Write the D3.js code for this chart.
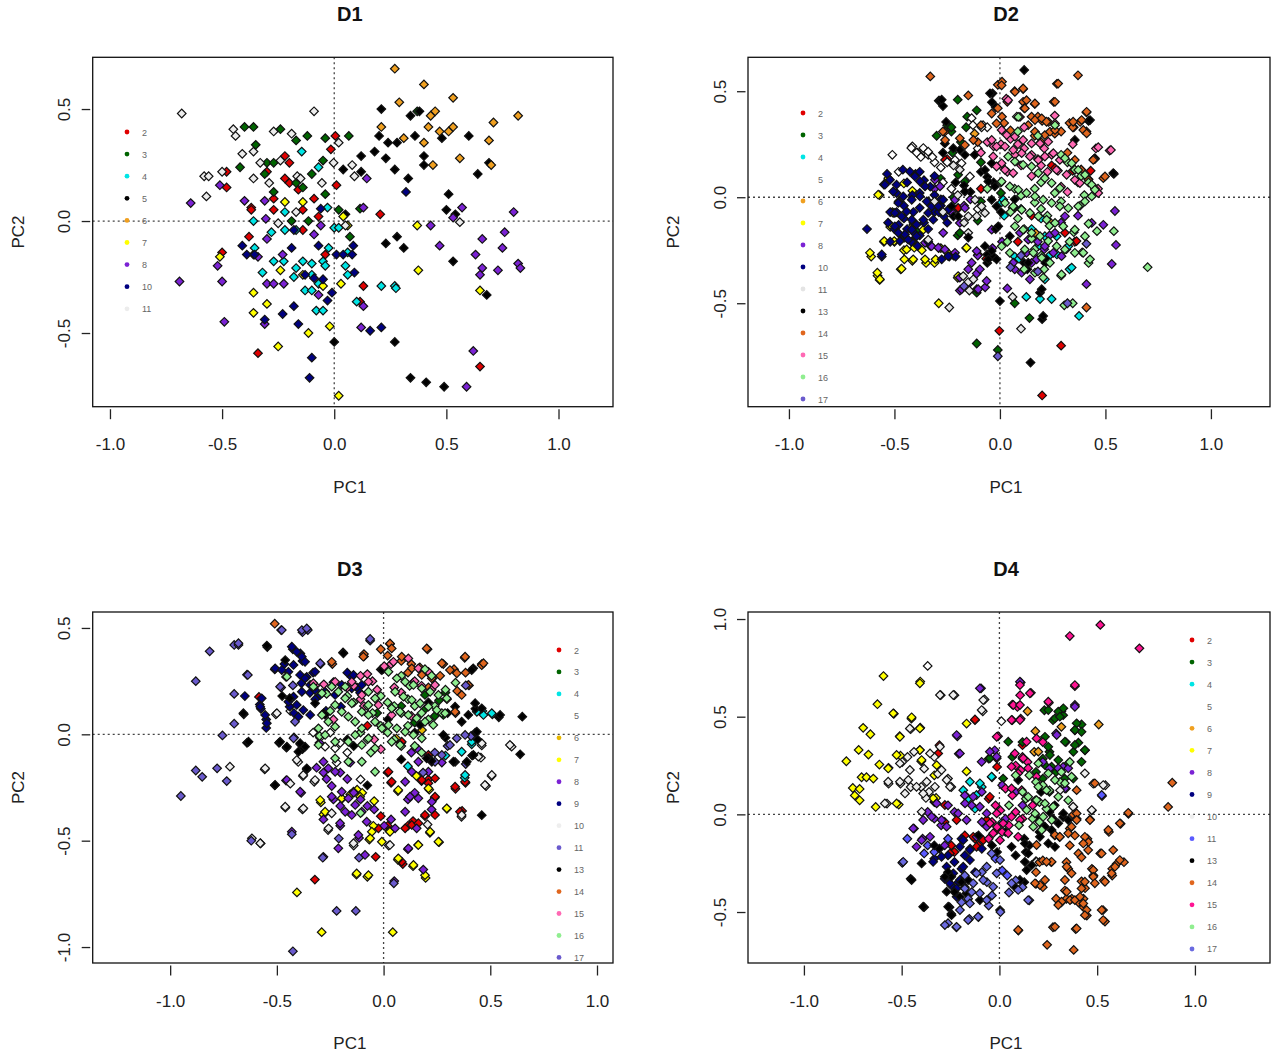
<!DOCTYPE html>
<html lang="en">
<head>
<meta charset="UTF-8">
<title>PCA D1-D4</title>
<script src="https://cdn.jsdelivr.net/npm/d3@7/dist/d3.min.js"></script>
<style>
    body { margin: 0; background: #fff; }
    text { font-family: "Liberation Sans", Arial, sans-serif; }
</style>
</head>
<body>
<svg width="1280" height="1058" id="main"></svg>
<script>
    // shared tick values
    const xTicks = [-1, -0.5, 0, 0.5, 1];
    const d1YTicks = [-0.5, 0, 0.5];
    const d2YTicks = [-0.5, 0, 0.5];
    const d3YTicks = [-1, -0.5, 0, 0.5];
    const d4YTicks = [-0.5, 0, 0.5, 1];

    // ---- D1 ----
    const d1Labels = ["2", "3", "4", "5", "6", "7", "8", "10", "11"];
    const d1Colors = ["#e00000", "#006400", "#00e5e5", "#000000", "#f0a020", "#ffff00", "#7b22d4", "#000080", "#ececec"];
    const d1Points = [
        // 2
        [[0.005,0.38],[-0.015,0.32],[-0.22,0.29],[-0.2,0.26],[-0.3,0.22],[-0.48,0.22],[-0.48,0.15],[-0.22,0.19],[-0.2,0.17],[-0.16,0.14],[0.01,0.16],[-0.27,0.1],[-0.37,0.06],[-0.37,0.05],[-0.27,0.05],[-0.09,0.1],[-0.14,0.05],[-0.07,0.02],[-0.14,-0.04],[0.205,0.03],[-0.38,-0.07],[-0.36,-0.15],[-0.5,-0.14],[-0.04,-0.15],[0.13,-0.29],[0.115,-0.36],[-0.34,-0.59],[0.65,-0.65]],
        // 3
        [[-0.4,0.42],[-0.36,0.42],[-0.24,0.41],[-0.12,0.38],[-0.04,0.37],[0.065,0.38],[-0.35,0.34],[-0.42,0.24],[-0.3,0.26],[-0.27,0.26],[-0.17,0.36],[-0.05,0.27],[-0.1,0.21],[-0.17,0.17],[-0.14,0.15],[-0.27,0.13],[-0.04,0.12],[0.02,0.05],[0.115,0.055],[-0.19,0],[-0.115,0],[0.07,-0.07],[0.37,0.49],[-0.31,0.21]],
        // 4
        [[-0.145,0.31],[-0.07,0.24],[-0.22,0.04],[-0.03,0.06],[-0.36,0],[-0.22,-0.04],[-0.28,-0.05],[-0.17,-0.04],[0,-0.03],[-0.355,-0.12],[-0.025,-0.12],[0.06,-0.14],[-0.27,-0.18],[-0.225,-0.18],[-0.17,-0.21],[-0.14,-0.18],[-0.1,-0.19],[-0.05,-0.18],[-0.04,-0.2],[-0.32,-0.23],[-0.18,-0.25],[-0.1,-0.24],[0.05,-0.2],[0.06,-0.24],[-0.07,-0.28],[-0.13,-0.31],[-0.1,-0.31],[-0.08,-0.4],[-0.05,-0.4],[0.1,-0.36],[0.21,-0.29],[0.27,-0.29],[0.275,-0.3],[0.02,-0.03]],
        // 5
        [[0.21,0.5],[0.34,0.47],[0.38,0.49],[0.2,0.38],[0.24,0.35],[0.28,0.35],[0.36,0.38],[0.48,0.37],[0.6,0.38],[0.18,0.31],[0.23,0.28],[0.12,0.29],[0.4,0.29],[0.4,0.25],[0.27,0.23],[0.12,0.22],[0.04,0.23],[0.64,0.21],[0.69,0.26],[0.33,0.19],[0.51,0.12],[0.5,0.05],[0.54,0.03],[0.23,-0.1],[0.28,-0.07],[0.31,-0.12],[0.53,-0.18],[0.68,-0.33],[0.27,-0.54],[0.34,-0.7],[0.41,-0.72],[0.49,-0.74],[0,-0.54],[0.05,0.03]],
        // 6
        [[0.27,0.68],[0.4,0.61],[0.53,0.55],[0.29,0.53],[0.82,0.47],[0.43,0.47],[0.45,0.49],[0.21,0.42],[0.42,0.42],[0.53,0.42],[0.51,0.4],[0.47,0.4],[0.71,0.44],[0.31,0.37],[0.4,0.35],[0.69,0.36],[0.56,0.28],[0.44,0.25],[0.7,0.25]],
        // 7
        [[-0.22,0.085],[-0.14,0.085],[0.04,0.02],[0.06,-0.02],[0.37,-0.02],[0.375,-0.22],[-0.51,-0.16],[-0.24,-0.22],[-0.14,-0.24],[-0.05,-0.29],[0.03,-0.28],[-0.36,-0.32],[-0.3,-0.37],[-0.36,-0.41],[-0.115,-0.5],[-0.02,-0.47],[-0.25,-0.56],[0.02,-0.78],[0.65,-0.31]],
        // 8
        [[0.145,0.19],[-0.51,0.16],[-0.64,0.08],[-0.4,0.09],[-0.31,0.09],[0.13,0.06],[0.57,0.06],[0.8,0.04],[0.53,0.015],[0.43,-0.02],[0.76,-0.05],[-0.305,0.01],[-0.06,-0.02],[-0.09,-0.06],[-0.3,-0.08],[-0.23,-0.15],[0.66,-0.08],[0.47,-0.11],[0.75,-0.12],[0.63,-0.15],[-0.52,-0.2],[-0.5,-0.27],[-0.34,-0.16],[-0.3,-0.28],[-0.27,-0.28],[-0.225,-0.28],[0.66,-0.21],[0.65,-0.24],[0.73,-0.22],[0.82,-0.19],[0.83,-0.21],[-0.69,-0.27],[-0.49,-0.45],[-0.31,-0.46],[0.13,-0.38],[0.12,-0.475],[0.62,-0.58],[0.59,-0.74],[-0.07,-0.33]],
        // 10
        [[0.32,0.13],[-0.06,0.055],[-0.18,-0.04],[-0.41,-0.11],[-0.39,-0.15],[-0.355,-0.15],[-0.19,-0.12],[-0.07,-0.11],[0.01,-0.15],[0.04,-0.15],[0.08,-0.15],[0.085,-0.11],[-0.13,-0.24],[-0.09,-0.255],[-0.05,-0.26],[0.09,-0.23],[-0.01,-0.32],[-0.03,-0.355],[-0.18,-0.38],[-0.23,-0.415],[-0.16,-0.46],[0.16,-0.49],[0.21,-0.475],[-0.1,-0.61],[-0.11,-0.7],[-0.31,-0.44]],
        // 11
        [[-0.68,0.48],[-0.09,0.49],[-0.45,0.41],[-0.44,0.38],[-0.27,0.4],[-0.19,0.39],[0.02,0.35],[-0.41,0.3],[-0.36,0.31],[-0.33,0.26],[-0.24,0.27],[-0.58,0.2],[-0.56,0.2],[-0.5,0.22],[-0.36,0.19],[-0.29,0.17],[-0.165,0.2],[-0.15,0.19],[-0.055,0.17],[-0.003,0.26],[0.09,0.2],[0.08,0.25],[-0.57,0.11],[-0.17,0.04],[-0.25,-0.01],[0.56,-0.005],[0.05,-0.02]]
    ];

    // ---- D2 ----
    const d2Labels = ["2", "3", "4", "5", "6", "7", "8", "10", "11", "13", "14", "15", "16", "17"];
    const d2Colors = ["#e00000", "#006400", "#00e5e5", "#ffffff", "#f0a020", "#ffff00", "#7b22d4", "#000080", "#e4e4e4", "#000000", "#e0661e", "#ff69b4", "#90ee90", "#6a5acd"];
    const d2Points = [
        // 2
        [[-0.065,-0.29],[-0.003,-0.63],[0.29,-0.7],[0.2,-0.935],[0.355,-0.21],[0.345,0.125],[0.385,0.13],[0.43,0.125],[0.35,0.33],[-0.2,-0.055],[-0.25,0.18],[0.15,-0.087],[-0.09,0.04],[0.245,0.15],[0.085,-0.21],[-0.26,0.176],[-0.103,-0.27],[-0.198,-0.05],[0.355,0.129],[0.261,0.137],[0.363,-0.207],[0.308,-0.168]],
        // 3
        [[-0.2,0.46],[-0.11,0.41],[-0.29,0.455],[-0.25,0.34],[-0.23,0.31],[-0.3,0.29],[-0.155,0.38],[-0.225,0.21],[-0.16,0.33],[-0.09,0.165],[-0.2,-0.18],[-0.105,-0.11],[-0.39,-0.17],[0.005,0.02],[0.07,-0.05],[-0.11,-0.45],[0.07,-0.5],[0.14,-0.57],[-0.11,-0.69],[-0.01,-0.72],[-0.22,0],[-0.09,-0.02],[-0.28,0.087],[-0.185,0.26],[-0.198,0.106],[-0.19,-0.168],[-0.166,0.074],[-0.11,-0.434],[-0.3,-0.051],[-0.395,-0.161],[-0.23,0.33]],
        // 4
        [[0.008,-0.024],[0.07,-0.28],[0.09,-0.29],[0.15,-0.15],[0.195,-0.1],[0.235,-0.275],[0.27,-0.27],[0.315,-0.245],[0.33,-0.34],[0.245,-0.48],[0.19,-0.48],[0.375,-0.56],[0.125,-0.47],[0.02,-0.087],[0.1,-0.055],[0.016,-0.012],[0.213,-0.184],[0.182,-0.231],[0.269,-0.184],[0.324,-0.231],[0.213,-0.387],[0.34,-0.332]],
        // 5
        [[-0.51,0.2],[-0.48,0.12],[-0.415,0.24],[-0.39,0.21],[-0.36,0.22],[-0.34,0.2],[-0.375,0.19],[-0.31,0.165],[-0.28,0.14],[-0.25,0.165],[-0.08,0.34],[-0.06,0.33],[0.08,0.38],[-0.105,-0.055],[-0.27,0.07],[-0.23,0.04],[-0.105,0.23],[-0.42,0.232],[-0.395,0.21],[-0.363,0.232],[-0.34,0.215],[-0.32,0.19],[-0.134,0.373],[-0.128,0.34],[-0.087,0.33],[-0.213,0.176],[-0.182,0.16],[-0.142,0.098]],
        // 6
        [[0.17,-0.17],[0.06,-0.05],[-0.12,0.3],[0.24,-0.12]],
        // 7
        [[-0.57,0.01],[-0.53,0.08],[-0.455,0.065],[-0.415,0.03],[-0.51,-0.07],[-0.52,-0.14],[-0.55,-0.21],[-0.5,-0.21],[-0.46,-0.19],[-0.455,-0.25],[-0.415,-0.21],[-0.415,-0.3],[-0.37,-0.25],[-0.35,-0.31],[-0.31,-0.31],[-0.28,-0.24],[-0.61,-0.28],[-0.58,-0.37],[-0.57,-0.39],[-0.47,-0.34],[-0.29,-0.5],[-0.2,-0.38],[-0.16,-0.24],[-0.41,-0.13],[-0.25,-0.26],[-0.529,0.09],[-0.577,0.012],[-0.506,-0.074],[-0.521,-0.129],[-0.548,-0.207],[-0.501,-0.207],[-0.453,-0.191],[-0.442,-0.246],[-0.406,-0.238],[-0.453,-0.293],[-0.411,-0.293],[-0.355,-0.293],[-0.305,-0.293],[-0.616,-0.262],[-0.581,-0.356],[-0.569,-0.387],[-0.466,-0.337],[-0.198,-0.372],[-0.158,-0.238],[-0.363,-0.153]],
        // 8
        [[-0.23,-0.07],[-0.33,-0.23],[-0.29,-0.24],[-0.15,-0.34],[-0.11,-0.36],[-0.19,-0.44],[-0.07,-0.425],[0.035,-0.43],[0.01,-0.21],[-0.035,-0.24],[0.545,-0.065],[0.49,-0.13],[0.55,-0.225],[0.53,-0.315],[0.41,-0.41],[0.18,-0.21],[0.21,-0.245],[0.235,-0.18],[0.15,-0.31],[0.29,-0.12],[0.37,-0.087],[-0.17,-0.04],[-0.14,-0.01],[-0.31,0.04],[0.07,-0.34],[-0.105,-0.275],[-0.22,-0.275],[-0.308,0.082],[-0.284,0.051],[-0.355,-0.215],[-0.324,-0.231],[-0.292,-0.238],[-0.261,-0.246],[-0.213,-0.262],[-0.269,-0.168],[-0.19,-0.121],[-0.134,-0.309],[-0.095,-0.34],[-0.19,-0.379],[-0.142,-0.403],[-0.182,-0.434],[-0.103,-0.434],[-0.063,-0.395],[-0.11,-0.254],[-0.039,-0.153],[-0.213,-0.012],[-0.166,-0.051],[0.095,-0.168],[0.134,-0.2],[0.126,-0.262],[0.174,-0.293],[0.213,-0.231],[0.253,-0.262],[0.292,-0.278],[0.261,-0.168],[0.308,-0.09],[0.063,-0.309],[0.103,-0.356],[0.142,-0.387],[0.435,-0.121]],
        // 10
        [[-0.55,0.06],[-0.535,0.11],[-0.48,-0.02],[-0.49,-0.07],[-0.44,0.07],[-0.4,0.11],[-0.38,0.12],[-0.36,0.08],[-0.33,0.05],[-0.34,-0.02],[-0.38,-0.05],[-0.41,-0.07],[-0.455,-0.1],[-0.48,-0.13],[-0.5,-0.15],[-0.44,-0.15],[-0.41,-0.165],[-0.38,-0.18],[-0.34,-0.15],[-0.31,-0.07],[-0.28,-0.04],[-0.25,-0.12],[-0.56,-0.28],[-0.63,-0.15],[-0.52,-0.21],[-0.39,-0.23],[-0.455,-0.04],[-0.415,0.01],[-0.38,0.02],[-0.31,0.01],[-0.265,-0.09],[-0.49,0.02],[-0.53,-0.12],[-0.24,-0.28],[-0.21,-0.28],[-0.42,-0.21],[-0.34,-0.21],[-0.28,-0.01],[-0.36,-0.12],[-0.41,-0.12],[-0.46,0.13],[-0.31,0.1],[-0.29,-0.07],[-0.52,-0.07],[-0.455,-0.18],[-0.427,0.121],[-0.403,0.098],[-0.379,0.074],[-0.355,0.051],[-0.379,0.004],[-0.347,-0.02],[-0.324,-0.043],[-0.418,-0.012],[-0.458,0.004],[-0.482,-0.027],[-0.498,-0.074],[-0.466,-0.09],[-0.442,-0.067],[-0.418,-0.106],[-0.395,-0.129],[-0.363,-0.106],[-0.34,-0.074],[-0.316,-0.106],[-0.292,-0.043],[-0.269,-0.012],[-0.245,-0.059],[-0.418,-0.153],[-0.45,-0.176],[-0.482,-0.168],[-0.498,-0.137],[-0.474,-0.207],[-0.435,-0.2],[-0.395,-0.184],[-0.545,0.059],[-0.521,0.082],[-0.49,0.059],[-0.506,0.027],[-0.56,-0.27],[-0.276,-0.293],[-0.245,-0.278]],
        // 11
        [[-0.22,0.15],[-0.19,0.13],[-0.15,-0.09],[-0.17,-0.12],[-0.34,-0.2],[-0.24,-0.52],[-0.15,-0.4],[-0.145,-0.44],[0.06,-0.47],[0.1,-0.62],[-0.2,0.01],[-0.31,-0.02],[-0.27,-0.07],[-0.118,-0.012],[-0.087,-0.043],[-0.11,-0.09],[-0.071,-0.074],[-0.15,-0.168],[-0.174,-0.372],[-0.126,-0.387]],
        // 13
        [[0.115,0.6],[-0.285,0.455],[-0.27,0.43],[-0.035,0.49],[-0.02,0.425],[-0.255,0.355],[0.42,0.36],[0.45,0.18],[0.54,0.11],[-0.12,0.2],[-0.09,0.12],[-0.06,0.095],[-0.03,0.07],[-0.17,0.055],[-0.14,0.025],[-0.22,-0.09],[-0.15,-0.19],[-0.06,-0.27],[-0.03,-0.28],[-0.06,-0.31],[-0.02,-0.15],[0.115,-0.31],[0.13,-0.34],[0.19,-0.45],[0.2,-0.575],[0,-0.49],[0.145,-0.78],[0.215,-0.31],[-0.27,0.21],[-0.21,0.07],[0.07,-0.01],[0.005,-0.07],[-0.261,0.254],[-0.221,0.231],[-0.19,0.223],[-0.166,0.2],[-0.071,0.129],[-0.039,0.16],[-0.055,0.074],[-0.024,0.051],[-0.039,-0.012],[-0.016,-0.043],[-0.071,-0.231],[-0.039,-0.254],[-0.055,-0.293],[-0.016,-0.293],[-0.166,0.027],[-0.229,-0.043],[-0.198,-0.09],[0.427,0.364],[0.45,0.184],[0.537,0.114],[0.355,0.27],[-0.008,-0.137],[0.047,-0.184],[0.134,-0.309],[0.221,-0.293],[0.198,-0.434],[0.205,-0.56],[-0.047,0.49],[-0.038,0.448],[-0.276,0.46]],
        // 14
        [[-0.33,0.57],[-0.15,0.48],[-0.01,0.53],[0.01,0.545],[0.07,0.5],[0.11,0.51],[0.27,0.535],[0.37,0.575],[0.255,0.45],[-0.01,0.42],[0.01,0.38],[0.035,0.45],[0.11,0.45],[0.115,0.42],[0.165,0.44],[0.15,0.38],[0.18,0.38],[0.2,0.36],[0.26,0.3],[0.29,0.31],[0.33,0.35],[0.345,0.33],[0.38,0.355],[0.41,0.31],[0.41,0.4],[0.445,0.18],[0.49,0.09],[0.42,0.085],[0.41,-0.52],[0.02,0.35],[0.05,0.315],[-0.09,0.34],[-0.105,0.26],[0.165,0.29],[0.195,0.26],[0.23,0.355],[0.32,0.21],[0.385,0.13],[-0.19,0.278],[-0.166,0.246],[-0.126,0.27],[-0.261,0.309],[-0.039,0.395],[-0.016,0.348],[-0.27,0.31],[-0.26,0.27],[0.008,0.528],[0.071,0.497],[0.11,0.513],[0.126,0.458],[0.118,0.419],[0.166,0.442],[0.261,0.45],[0.276,0.536],[0.134,0.34],[0.166,0.364],[0.198,0.372],[0.221,0.356],[0.166,0.309],[0.213,0.293],[0.237,0.309],[0.261,0.317],[0.347,0.356],[0.387,0.364],[0.411,0.403],[0.395,0.317],[0.411,0.301],[0.355,0.176],[0.442,0.176],[0.498,0.098],[0.419,0.082]],
        // 15
        [[0.03,0.465],[0.26,0.385],[-0.06,0.26],[-0.03,0.24],[0.005,0.25],[0.05,0.275],[0.085,0.25],[0.115,0.23],[0.15,0.2],[0.18,0.18],[0.21,0.23],[0.245,0.2],[0.195,0.15],[0.225,0.12],[0.275,0.125],[0.345,0.25],[0.37,0.07],[0.455,0.23],[0.52,0.22],[0.465,0.04],[0.07,0.2],[0.1,0.15],[0.005,0.15],[0.035,0.12],[0.29,0.05],[0.32,0.025],[0.15,0.1],[-0.09,0.21],[0.115,0.33],[-0.039,0.27],[-0.016,0.239],[-0.032,0.192],[0.008,0.16],[0.039,0.458],[0.095,0.379],[0.008,0.317],[0.032,0.293],[0.071,0.286],[0.11,0.27],[0.15,0.254],[0.19,0.254],[0.229,0.262],[0.024,0.239],[0.063,0.223],[0.103,0.208],[0.142,0.192],[0.182,0.176],[0.213,0.192],[0.253,0.208],[0.284,0.176],[0.268,0.129],[0.316,0.106],[0.355,0.082],[0.379,0.067],[0.466,0.02],[0.466,0.236],[0.526,0.223],[-0.016,0.145],[0.024,0.129],[0.063,0.114],[0.261,0.348]],
        // 16
        [[0.085,0.31],[0.18,0.29],[0.29,0.2],[0.32,0.165],[0.355,0.13],[0.385,0.1],[0.42,0.07],[0.45,0.04],[0.4,0.01],[0.38,-0.04],[0.35,-0.165],[0.33,-0.21],[0.39,-0.26],[0.42,-0.31],[0.42,-0.125],[0.46,-0.16],[0.54,-0.16],[0.7,-0.33],[0.165,-0.025],[0.195,-0.055],[0.225,-0.087],[0.05,-0.07],[0.085,-0.1],[0.115,-0.15],[0.15,-0.195],[0.165,-0.245],[0.195,-0.275],[0.21,-0.34],[0.29,-0.37],[0.345,-0.5],[0.305,-0.51],[0.07,0.04],[0.1,0.008],[0.26,0.02],[0.29,-0.02],[0.235,-0.135],[0.035,-0.21],[0.115,-0.34],[0.005,0.07],[-0.06,0.04],[0.195,0.07],[0.165,0.04],[0.087,0.379],[0.261,0.34],[0.308,0.184],[0.34,0.16],[0.371,0.129],[0.403,0.106],[0.435,0.059],[0.45,0.035],[0.435,0.004],[0.403,-0.02],[0.371,-0.043],[0.039,0.192],[0.071,0.168],[0.11,0.153],[0.15,0.145],[0.182,0.114],[0.213,0.09],[0.245,0.067],[0.284,0.043],[0.008,0.074],[0.047,0.051],[0.087,0.035],[0.126,0.02],[0.166,0.004],[0.205,-0.012],[0.245,-0.027],[0.284,-0.043],[0.324,-0.051],[0.024,-0.027],[0.063,-0.043],[0.103,-0.059],[0.142,-0.074],[0.182,-0.09],[0.221,-0.106],[0.261,-0.121],[0.3,-0.137],[0.355,-0.153],[0.403,-0.184],[0.071,-0.137],[0.11,-0.153],[0.15,-0.168],[0.19,-0.184],[0.229,-0.207],[0.269,-0.231],[0.308,-0.246],[0.355,-0.262],[0.395,-0.262],[0.427,-0.293],[0.118,-0.246],[0.158,-0.262],[0.198,-0.286],[0.237,-0.309],[0.166,-0.356],[0.205,-0.379],[0.292,-0.364],[0.008,-0.231],[0.047,-0.262]],
        // 17
        [[0.41,-0.22],[-0.01,-0.75],[0.18,-0.35],[-0.17,-0.42],[0.32,-0.5],[0.05,-0.33],[0.1,-0.275]]
    ];

    // ---- D3 ----
    const d3Labels = ["2", "3", "4", "5", "6", "7", "8", "9", "10", "11", "13", "14", "15", "16", "17"];
    const d3Colors = ["#e00000", "#006400", "#00e5e5", "#ffffff", "#e8b800", "#ffff00", "#7b22d4", "#000080", "#eeeeee", "#6a5acd", "#000000", "#e0661e", "#ff69b4", "#90ee90", "#6a5acd"];
    const d3Points = [
        // 2
        [[-0.584,0.176],[-0.322,-0.683],[-0.037,-0.576],[0.09,-0.61],[0.114,-0.43],[0.138,-0.408],[0.194,-0.385],[0.24,-0.298],[0.337,-0.256],[0.384,-0.228],[0.368,-0.36],[0.178,-0.22],[0.21,-0.212],[0.019,-0.18],[0.035,-0.228],[0.083,-0.04],[0.21,-0.1],[-0.076,0.04],[-0.013,-0.385],[0.019,-0.43],[-0.024,-0.442],[0.085,-0.035],[0.21,-0.097],[0.226,-0.129],[0.023,-0.176],[0.038,-0.223],[0.179,-0.215],[0.21,-0.23],[0.241,-0.207],[0.335,-0.246],[0.382,-0.223],[0.241,-0.293],[0.194,-0.379],[0.241,-0.379],[0.132,-0.426],[0.163,-0.418],[0.101,-0.442],[0.358,-0.364],[0.085,-0.599]],
        // 3
        [[0.21,0.29],[0.29,0.196],[0.194,0.118],[0.146,0.055],[0.083,0.133],[0.24,0.086],[-0.03,0.1],[0.26,0.16],[0.28,0.091],[0.194,0.185]],
        // 4
        [[0.463,0.11],[0.51,0.094],[0.413,-0.047],[0.38,-0.204],[0.29,-0.1],[0.114,-0.15],[0.138,0.243],[0.437,0.106],[0.468,0.091],[0.507,0.099],[0.413,-0.035],[0.366,-0.082],[0.382,-0.191]],
        // 5
        [[-0.505,0.094],[-0.437,0.11],[-0.33,0.008],[-0.298,-0.016],[-0.203,-0.04],[-0.17,-0.086],[-0.25,0.008],[-0.108,-0.212],[-0.22,-0.133],[-0.274,-0.058],[-0.227,-0.066]],
        // 6
        [[0.06,-0.02],[0.18,0.02]],
        // 7
        [[-0.406,-0.743],[-0.29,-0.93],[0.043,-0.93],[-0.127,-0.66],[-0.076,-0.67],[-0.294,-0.32],[-0.282,-0.377],[-0.195,-0.303],[-0.156,-0.283],[-0.124,-0.26],[-0.1,-0.275],[-0.048,-0.43],[-0.067,-0.495],[0.027,-0.455],[0.067,-0.267],[0.067,-0.59],[0.138,-0.62],[0.162,-0.52],[0.197,-0.675],[0.217,-0.463],[0.26,-0.507],[0.297,-0.35],[0.214,-0.26],[0.154,-0.196],[-0.044,-0.314],[-0.297,-0.309],[-0.274,-0.364],[-0.196,-0.301],[-0.141,-0.27],[-0.11,-0.293],[-0.055,-0.458],[-0.063,-0.489],[-0.008,-0.505],[-0.126,-0.654],[-0.071,-0.662],[0.069,-0.262],[0.21,-0.254],[0.296,-0.348],[0.03,-0.458],[0.218,-0.458],[0.257,-0.505],[0.163,-0.52],[0.069,-0.583],[0.14,-0.614],[0.194,-0.662]],
        // 8
        [[-0.457,-0.217],[-0.386,-0.275],[-0.314,-0.157],[-0.282,-0.18],[-0.267,-0.21],[-0.243,-0.243],[-0.203,-0.18],[-0.17,-0.21],[-0.14,-0.275],[-0.108,-0.306],[-0.076,-0.337],[-0.044,-0.353],[-0.235,-0.306],[-0.203,-0.337],[-0.282,-0.4],[-0.203,-0.43],[-0.115,-0.487],[-0.282,-0.576],[0.003,-0.43],[0.035,-0.4],[0.114,-0.306],[0.146,-0.275],[0.114,-0.54],[0.186,-0.636],[0.05,-0.69],[0.225,-0.353],[0.273,-0.133],[0.13,-0.086],[0.162,-0.07],[-0.156,-0.133],[-0.3,-0.04],[-0.453,-0.215],[-0.391,-0.27],[-0.282,-0.129],[-0.259,-0.16],[-0.227,-0.176],[-0.243,-0.293],[-0.196,-0.27],[-0.165,-0.301],[-0.133,-0.332],[-0.18,-0.364],[-0.149,-0.379],[-0.102,-0.364],[-0.079,-0.411],[-0.204,-0.418],[-0.212,-0.536],[-0.118,-0.473],[-0.087,-0.567],[-0.43,-0.458],[0.163,-0.129],[0.132,-0.176],[0.101,-0.223],[0.124,-0.293],[0.163,-0.301],[0.101,-0.364],[0.054,-0.442],[0.226,-0.317],[0.155,-0.442],[0.116,-0.536],[0.21,-0.176]],
        // 9
        [[-0.65,0.18],[-0.58,0.14],[-0.575,0.12],[-0.55,0.07],[-0.55,0.03],[-0.465,0.33],[-0.51,0.305],[-0.425,0.4],[-0.39,0.38],[-0.38,0.345],[-0.36,0.27],[-0.385,0.24],[-0.33,0.29],[-0.44,0.13],[-0.42,0.1],[-0.345,0.195],[-0.32,0.165],[-0.17,0.29],[-0.15,0.27],[-0.125,0.22],[-0.11,0.195],[-0.235,0.245],[-0.27,0.11],[-0.2,0.13],[-0.43,0.412],[-0.407,0.388],[-0.383,0.365],[-0.368,0.341],[-0.422,0.326],[-0.446,0.294],[-0.391,0.279],[-0.368,0.263],[-0.344,0.232],[-0.321,0.208],[-0.297,0.185],[-0.274,0.2],[-0.383,0.2],[-0.422,0.177],[-0.446,0.153],[-0.407,0.138],[-0.376,0.114],[-0.344,0.091],[-0.399,0.083],[-0.571,0.169],[-0.578,0.13],[-0.555,0.091],[-0.547,0.052],[-0.321,0.294],[-0.508,0.31],[-0.477,0.302],[-0.141,0.279],[-0.102,0.232],[-0.149,0.216],[-0.196,0.232],[-0.227,0.185]],
        // 10
        [[-0.557,-0.165],[-0.72,-0.152],[-0.437,-0.232],[-0.378,-0.196],[-0.325,-0.223],[-0.4,-0.13],[-0.46,-0.345],[-0.38,-0.353],[-0.576,-0.513],[-0.26,-0.45],[-0.14,-0.523],[0.024,-0.523],[0.206,-0.424],[0.365,-0.388],[0.48,-0.243],[0.506,-0.196],[0.46,-0.052],[0.456,-0.11],[0.6,-0.058],[-0.5,0.099],[-0.555,-0.16],[-0.407,-0.121],[-0.376,-0.191],[-0.321,-0.215],[-0.461,-0.34],[-0.376,-0.348],[-0.243,-0.371],[-0.258,-0.442],[-0.141,-0.512],[-0.617,-0.489],[-0.578,-0.512],[0.46,-0.042],[0.592,-0.05],[0.475,-0.238],[0.507,-0.191],[0.444,-0.105],[0.366,-0.379],[0.03,-0.52]],
        // 11
        [[-0.295,0.33],[-0.48,0.22],[-0.425,0.23],[-0.42,-0.015],[-0.43,-0.47],[-0.21,-0.49],[-0.285,-0.58],[-0.115,-0.58],[0.048,-0.7],[0.24,-0.086],[0.3,-0.055],[0.385,-0.14],[0.185,-0.18],[0.41,-0.008],[-0.415,0.059],[-0.422,-0.019],[0.311,-0.05],[0.343,-0.019],[0.382,-0.003],[0.273,-0.097],[0.241,-0.129]],
        // 13
        [[-0.545,0.41],[-0.19,0.385],[-0.013,0.305],[-0.655,0.094],[-0.64,-0.04],[-0.49,-0.04],[-0.455,-0.063],[-0.39,-0.047],[-0.38,-0.07],[-0.51,-0.24],[-0.36,-0.165],[-0.475,0.18],[-0.44,0.17],[-0.28,0.1],[0.42,0.31],[0.46,0.33],[0.43,0.12],[0.54,0.08],[0.65,0.083],[0.64,-0.094],[0.46,-0.38],[0.415,-0.1],[0.335,-0.13],[0.21,-0.11],[0.225,-0.125],[0.29,-0.016],[0.146,0.008],[0.21,0.15],[0.3,0.1],[0.335,0.13],[-0.17,-0.024],[-0.14,-0.055],[0.02,0.07],[0.083,-0.118],[-0.076,-0.24],[0.43,0.008],[0.44,-0.024],[-0.547,0.417],[-0.461,0.349],[-0.657,0.099],[-0.633,-0.035],[-0.485,-0.035],[-0.453,-0.058],[-0.391,-0.042],[-0.368,-0.058],[-0.399,-0.082],[-0.36,-0.16],[-0.508,-0.238],[-0.321,0.146],[-0.274,0.091],[-0.188,0.381],[-0.008,0.302],[0.413,0.302],[0.429,0.146],[0.46,0.122],[0.397,0.091],[0.366,0.059],[0.437,0.012],[0.421,-0.097],[0.39,-0.129],[0.327,-0.129],[0.28,-0.003],[0.202,-0.113],[0.171,0.044],[0.546,0.091]],
        // 14
        [[-0.51,0.52],[-0.24,0.33],[-0.092,0.366],[-0.013,0.4],[0.03,0.424],[0.206,0.4],[0.38,0.36],[0.46,0.325],[0.28,0.33],[0.33,0.306],[0.384,0.29],[0.13,0.33],[0.17,0.314],[0.233,0.267],[0.265,0.275],[0.4,0.23],[0.345,0.204],[0.297,0.165],[0.21,0.22],[0.083,0.345],[0.114,0.29],[0.019,0.37],[0.337,0.1],[-0.092,0.377],[-0.243,0.341],[-0.095,0.365],[0.03,0.427],[0.038,0.404],[0.202,0.404],[0.382,0.365],[0.468,0.334],[0.273,0.334],[0.311,0.302],[0.343,0.287],[0.397,0.232],[0.366,0.185],[0.179,0.279],[0.226,0.263],[0.132,0.31],[0.085,0.365],[0.335,0.106]],
        // 15
        [[-0.32,0.228],[-0.28,0.235],[-0.17,0.22],[-0.14,0.228],[-0.108,0.275],[-0.076,0.283],[-0.052,0.25],[-0.03,0.21],[0.003,0.32],[0.035,0.33],[-0.108,0.165],[-0.092,0.133],[0.05,0.22],[0.083,0.196],[0.146,0.25],[0.178,0.228],[0.225,0.21],[-0.044,-0.024],[-0.013,-0.07],[0.13,0.086],[-0.235,0.07],[-0.329,0.24],[-0.227,0.247],[-0.149,0.247],[-0.102,0.185],[-0.071,0.247],[-0.024,0.138],[0.046,0.341],[0.116,0.357],[0.163,0.31],[0.21,0.294],[0.241,0.232],[0.038,0.091]],
        // 16
        [[-0.457,0.27],[-0.267,0.19],[-0.25,0.11],[-0.17,0.18],[-0.14,0.15],[-0.076,0.133],[-0.052,0.1],[-0.013,0.18],[0.019,0.15],[0.05,0.133],[0.083,0.1],[0.114,0.165],[0.146,0.133],[0.178,0.1],[0.21,0.07],[0.24,0.133],[0.273,0.1],[0.083,0.275],[0.122,0.228],[0.194,0.306],[0.225,0.275],[-0.013,0.04],[0.019,0.008],[0.05,-0.024],[0.083,-0.055],[0.146,-0.055],[0.178,-0.086],[-0.108,0.008],[-0.076,-0.024],[-0.06,-0.086],[0.114,0.04],[0.29,0.21],[0.337,0.243],[-0.3,-0.008],[-0.108,-0.37],[-0.453,0.271],[-0.329,0.224],[-0.289,0.193],[-0.243,0.224],[-0.212,0.2],[-0.18,0.169],[-0.149,0.146],[-0.227,0.138],[-0.196,0.106],[-0.165,0.083],[-0.133,0.059],[-0.289,0.091],[-0.259,0.059],[-0.227,0.036],[-0.305,0.028],[-0.274,-0.003],[-0.18,0.224],[-0.071,0.2],[-0.04,0.169],[-0.071,0.138],[-0.102,0.106],[-0.071,0.091],[-0.04,0.059],[-0.008,0.028],[-0.102,0.028],[-0.133,-0.003],[-0.071,-0.019],[-0.305,-0.05],[-0.227,-0.035],[-0.165,-0.035],[-0.102,-0.05],[-0.04,-0.066],[-0.227,-0.113],[-0.165,-0.129],[-0.102,-0.129],[-0.04,-0.176],[0.023,0.294],[0.062,0.263],[0.101,0.247],[0.14,0.232],[0.179,0.216],[0.218,0.2],[0.257,0.185],[0.296,0.169],[0.054,0.2],[0.093,0.177],[0.132,0.161],[0.171,0.146],[0.21,0.13],[0.249,0.114],[0.288,0.099],[0.038,0.122],[0.077,0.106],[0.116,0.091],[0.155,0.075],[0.194,0.059],[0.233,0.044],[0.023,0.044],[0.062,0.028],[0.101,0.012],[0.14,-0.003],[0.179,-0.019],[0.038,-0.035],[0.077,-0.05]],
        // 17
        [[-0.815,0.39],[-0.88,0.25],[-0.7,0.42],[-0.68,0.42],[-0.7,0.19],[-0.64,0.28],[-0.755,-0.005],[-0.7,0.05],[-0.88,-0.17],[-0.85,-0.2],[-0.78,-0.16],[-0.735,-0.22],[-0.95,-0.29],[-0.38,0.48],[-0.355,0.49],[-0.48,0.49],[-0.063,0.44],[-0.62,-0.5],[-0.22,-0.83],[-0.13,-0.83],[-0.425,-1.02],[0.385,0.23],[-0.477,0.49],[-0.383,0.49],[-0.36,0.498],[-0.68,0.428],[-0.063,0.448],[-0.636,0.279],[-0.485,0.224],[-0.297,0.334]]
    ];

    // ---- D4 ----
    const d4Labels = ["2", "3", "4", "5", "6", "7", "8", "9", "10", "11", "13", "14", "15", "16", "17"];
    const d4Colors = ["#e00000", "#006400", "#00e5e5", "#ffffff", "#f0a020", "#ffff00", "#7b22d4", "#000080", "#eeeeee", "#5a5aff", "#000000", "#e0661e", "#ff1493", "#90ee90", "#6a6ae0"];
    const d4Points = [
        // 2
        [[-0.125,0.482],[-0.307,0.354],[-0.333,0.063],[-0.055,0.08],[-0.012,0.243],[-0.125,-0.125],[-0.107,-0.159],[-0.246,-0.159],[-0.23,-0.193],[-0.177,-0.108],[-0.055,-0.039],[0.118,0.354],[-0.28,-0.039],[-0.313,0.312],[-0.125,0.486],[-0.014,0.287],[-0.049,0.09],[-0.33,0.065],[-0.279,0.048],[-0.168,0.09],[-0.219,-0.029],[-0.134,-0.115],[-0.253,-0.2],[-0.117,-0.166],[-0.083,-0.132],[-0.014,-0.08],[-0.065,-0.029]],
        // 3
        [[0.23,0.533],[0.274,0.482],[0.317,0.528],[0.326,0.508],[0.42,0.46],[0.386,0.43],[0.34,0.37],[0.404,0.367],[0.378,0.32],[0.438,0.328],[0.118,0.37],[0.066,0.294],[0.019,0.183],[-0.055,0.285],[0.222,0.285],[0.256,0.32],[0.187,0.217],[0.222,0.183],[0.29,0.217],[0.334,0.183],[0.378,0.183],[0.256,0.115],[-0.049,0.287],[0.045,0.372],[0.25,0.534],[0.301,0.526],[0.284,0.491],[0.327,0.543],[0.309,0.5],[0.395,0.466],[0.42,0.423],[0.386,0.432],[0.335,0.372],[0.386,0.355],[0.437,0.329],[0.233,0.397],[0.25,0.346],[0.258,0.304],[0.233,0.252],[0.267,0.244],[0.301,0.278],[0.352,0.261],[0.42,0.269]],
        // 4
        [[-0.038,0.19],[-0.09,0.14],[-0.16,0.08],[-0.125,0.029],[0.014,-0.04],[-0.04,0.193],[-0.1,0.159],[-0.151,0.167],[-0.185,0.124],[-0.117,0.099]],
        // 5
        [[-0.367,0.76],[-0.3,0.61],[-0.23,0.61],[-0.076,0.588],[-0.085,0.528],[0.01,0.477],[-0.454,0.436],[0.118,0.285]],
        // 6
        [[0.144,0.528],[0.184,0.426],[0.508,0.46],[0.317,0.448],[0.178,0.32],[0.199,0.321]],
        // 7
        [[-0.593,0.708],[-0.405,0.68],[-0.624,0.564],[-0.54,0.515],[-0.45,0.49],[-0.405,0.444],[-0.697,0.443],[-0.66,0.41],[-0.51,0.4],[-0.72,0.33],[-0.67,0.306],[-0.783,0.272],[-0.614,0.255],[-0.567,0.238],[-0.506,0.3],[-0.407,0.33],[-0.4,0.272],[-0.705,0.19],[-0.68,0.19],[-0.645,0.183],[-0.75,0.135],[-0.715,0.13],[-0.74,0.097],[-0.715,0.072],[-0.633,0.038],[-0.515,0.05],[-0.168,0.465],[-0.333,0.2],[-0.168,0.22],[-0.324,0.084],[-0.407,0.671],[-0.543,0.517],[-0.449,0.497],[-0.407,0.44],[-0.509,0.397],[-0.526,0.304],[-0.569,0.235],[-0.407,0.329],[-0.398,0.278],[-0.321,0.252],[-0.526,0.056],[-0.339,0.082]],
        // 8
        [[0.109,0.675],[-0.094,0.645],[0.386,0.56],[-0.215,0.4],[-0.208,0.31],[-0.024,0.328],[0.29,0.414],[0.326,0.243],[0.34,0.132],[0.525,0.094],[-0.437,-0.073],[-0.393,-0.125],[-0.333,-0.022],[-0.298,-0.056],[-0.263,0.046],[-0.23,0.012],[-0.177,0.097],[-0.142,0.046],[-0.09,0.115],[0.014,0.149],[0.083,0.115],[0.118,0.046],[-0.367,0.012],[-0.28,-0.159],[-0.09,-0.039],[0.222,0.268],[0.256,0.234],[0.031,-0.022],[-0.1,0.645],[-0.219,0.406],[-0.202,0.312],[-0.091,0.269],[-0.049,0.321],[-0.014,0.295],[-0.321,0.056],[-0.347,-0.012],[-0.296,-0.029],[-0.27,-0.063],[-0.39,-0.029],[-0.355,-0.115],[-0.441,-0.072],[-0.398,-0.132],[-0.211,0.005],[-0.176,0.056],[-0.134,0.09],[-0.1,0.039],[-0.168,-0.029],[-0.065,0.005],[-0.065,-0.063],[-0.117,-0.115],[-0.424,-0.166],[0.105,0.679],[0.386,0.551],[0.293,0.406],[0.335,0.133],[0.301,0.236],[0.352,0.236]],
        // 9
        [[-0.263,-0.21],[-0.23,-0.244],[-0.194,-0.279],[-0.28,-0.33],[-0.246,-0.364],[-0.21,-0.347],[-0.177,-0.21],[-0.15,-0.176],[-0.333,-0.227],[-0.09,-0.176],[-0.125,-0.296],[-0.194,-0.125],[-0.27,-0.268],[-0.236,-0.302],[-0.202,-0.336],[-0.253,-0.353],[-0.219,-0.379],[-0.185,-0.268],[-0.151,-0.234],[-0.296,-0.217],[-0.339,-0.243],[-0.185,-0.132],[-0.202,-0.166],[-0.151,-0.183],[-0.219,-0.422]],
        // 10
        [[-0.497,0.268],[-0.437,0.32],[-0.47,0.294],[-0.385,0.234],[-0.567,0.157],[-0.575,0.055],[-0.506,0.157],[-0.454,0.14],[-0.4,0.14],[-0.36,0.115],[-0.376,0.084],[-0.315,0.208],[-0.263,0.183],[-0.246,0.14],[-0.333,0.294],[0.542,0.149],[0.48,0.157],[0.378,0.038],[0.473,0.02],[0.326,0.157],[0.187,-0.24],[0.31,0.123],[-0.304,0.611],[-0.236,0.611],[-0.083,0.585],[-0.091,0.534],[-0.458,0.44],[-0.304,0.346],[-0.355,0.312],[-0.509,0.261],[-0.458,0.227],[-0.569,0.167],[-0.509,0.167],[-0.466,0.176],[-0.424,0.141],[-0.372,0.167],[-0.33,0.141],[-0.39,0.107],[-0.296,0.227],[-0.27,0.176],[-0.253,0.141],[-0.483,0.107],[-0.586,0.056],[-0.398,0.013],[0.437,0.21],[0.531,0.15],[0.377,0.039],[0.472,0.022],[0.19,-0.243]],
        // 11
        [[-0.497,-0.248],[-0.385,-0.2],[-0.367,-0.159],[-0.333,-0.193],[-0.471,-0.125],[-0.263,-0.125],[0.014,-0.287],[0.04,-0.313],[-0.02,-0.227],[0.523,0.099]],
        // 13
        [[-0.454,-0.33],[-0.385,-0.475],[-0.255,-0.475],[-0.246,-0.51],[-0.333,-0.159],[-0.307,-0.176],[-0.263,-0.296],[-0.246,-0.32],[-0.194,-0.347],[-0.177,-0.373],[-0.23,-0.398],[0.083,-0.21],[0.135,-0.193],[0.153,-0.159],[0.127,-0.125],[0.205,-0.09],[0.222,-0.056],[0.256,0.012],[0.283,0.046],[0.274,-0.022],[0.184,0.072],[0.213,0.115],[0.031,-0.09],[0.127,-0.347],[-0.038,-0.159],[-0.012,-0.193],[-0.107,-0.108],[0.326,-0.014],[-0.449,-0.336],[-0.398,-0.251],[-0.39,-0.473],[-0.27,-0.396],[-0.262,-0.473],[-0.245,-0.516],[-0.202,-0.422],[-0.168,-0.404],[-0.279,-0.32],[-0.16,-0.336],[-0.1,-0.439],[0.003,-0.49],[0.096,0.176],[0.199,-0.029],[0.233,-0.063],[0.267,-0.08],[0.301,-0.046],[0.327,0.005],[0.352,-0.029],[0.207,-0.115],[0.25,-0.149],[0.284,-0.166],[0.13,-0.149],[0.147,-0.2],[0.13,-0.243],[0.165,-0.26],[0.062,-0.166],[0.139,-0.285],[0.105,-0.336],[0.079,-0.371]],
        // 14
        [[0.884,0.162],[0.863,0.038],[0.66,0.003],[0.62,-0.048],[0.56,-0.09],[0.464,-0.026],[0.45,-0.125],[0.455,-0.142],[0.378,-0.002],[0.395,-0.022],[0.36,-0.073],[0.386,-0.108],[0.283,-0.108],[0.308,-0.116],[0.36,-0.159],[0.404,-0.2],[0.42,-0.22],[0.516,-0.2],[0.6,-0.253],[0.637,-0.245],[0.577,-0.279],[0.577,-0.313],[0.534,-0.338],[0.473,-0.279],[0.481,-0.313],[0.42,-0.343],[0.438,-0.378],[0.343,-0.245],[0.352,-0.279],[0.335,-0.39],[0.29,-0.432],[0.317,-0.45],[0.343,-0.432],[0.37,-0.432],[0.404,-0.45],[0.43,-0.432],[0.43,-0.475],[0.53,-0.49],[0.447,-0.518],[0.54,-0.549],[0.39,-0.587],[0.274,-0.578],[0.097,-0.595],[0.244,-0.668],[0.38,-0.694],[0.187,-0.356],[0.222,-0.373],[0.187,-0.296],[0.205,-0.245],[0.222,-0.236],[0.265,-0.245],[0.659,0.008],[0.616,-0.046],[0.557,-0.08],[0.463,-0.029],[0.395,0.005],[0.395,-0.029],[0.395,0.124],[0.488,0.159],[0.369,-0.063],[0.352,-0.097],[0.437,-0.115],[0.429,-0.149],[0.454,-0.183],[0.523,-0.2],[0.582,-0.183],[0.616,-0.234],[0.591,-0.268],[0.574,-0.302],[0.54,-0.345],[0.48,-0.285],[0.48,-0.32],[0.488,-0.353],[0.437,-0.345],[0.42,-0.379],[0.369,-0.302],[0.344,-0.268],[0.335,-0.336],[0.233,-0.336],[0.207,-0.362],[0.182,-0.353],[0.267,-0.243],[0.241,-0.243],[0.19,-0.157],[0.284,-0.106],[0.309,-0.115],[0.344,-0.396],[0.361,-0.439],[0.318,-0.447],[0.301,-0.464],[0.386,-0.439],[0.412,-0.422],[0.429,-0.456],[0.446,-0.49],[0.437,-0.516],[0.523,-0.49],[0.531,-0.541],[0.284,-0.576],[0.096,-0.592],[0.395,-0.584]],
        // 15
        [[0.36,0.913],[0.516,0.97],[0.716,0.85],[0.386,0.656],[0.161,0.622],[0.106,0.61],[0.066,0.562],[0.092,0.55],[0.066,0.482],[0.109,0.49],[0.253,0.571],[-0.007,0.4],[0.118,0.294],[0.144,0.268],[0.083,0.25],[0.109,0.226],[-0.02,0.046],[0.005,0.02],[-0.038,-0.039],[-0.012,-0.065],[0.014,-0.09],[0.049,-0.056],[0.083,0.012],[0.118,-0.022],[0.031,0.132],[0.066,0.097],[0.17,0.046],[-0.055,-0.125],[0.222,0.37],[-0.014,0.397],[-0.014,0.005],[-0.049,-0.046],[0.019,-0.046],[-0.032,-0.097],[0.003,-0.132],[0.105,0.662],[0.156,0.62],[0.386,0.662],[0.071,0.56],[0.105,0.56],[0.062,0.483],[0.105,0.483],[0.139,0.372],[0.19,0.389],[0.079,0.312],[0.122,0.287],[0.062,0.244],[0.096,0.21],[0.147,0.236],[0.19,0.193],[0.062,0.133],[0.114,0.124],[0.062,-0.012],[0.105,-0.029],[0.045,-0.097],[0.096,-0.115],[0.25,0.577]],
        // 16
        [[0.153,0.2],[0.187,0.166],[0.222,0.149],[0.256,0.123],[0.118,0.115],[0.135,0.08],[0.205,0.063],[0.24,0.029],[0.17,-0.022],[0.205,-0.039],[0.31,0.166],[0.317,0.217],[0.36,0.268],[0.083,0.2],[0.049,0.046],[0.1,-0.056],[0.352,0.072],[0.199,0.261],[0.25,0.21],[0.284,0.176],[0.199,0.141],[0.241,0.124],[0.147,0.09],[0.19,0.073],[0.233,0.056],[0.275,0.039],[0.139,0.022],[0.182,0.005],[0.224,-0.012],[0.267,-0.029],[0.173,-0.063],[0.216,-0.08],[0.369,0.193],[0.335,0.159],[0.301,0.09]],
        // 17
        [[-0.263,-0.557],[-0.22,-0.578],[-0.194,-0.45],[-0.16,-0.432],[-0.107,-0.526],[-0.154,-0.535],[-0.055,-0.467],[-0.038,-0.415],[0.005,-0.5],[0.049,-0.4],[0.153,-0.44],[0.083,-0.338],[0.118,-0.373],[-0.09,-0.296],[-0.064,-0.347],[-0.177,-0.38],[-0.142,-0.398],[-0.177,-0.313],[-0.492,-0.243],[-0.279,-0.567],[-0.219,-0.576],[-0.16,-0.541],[-0.109,-0.524],[-0.202,-0.49],[-0.151,-0.456],[-0.1,-0.404],[-0.065,-0.439],[-0.134,-0.353],[-0.083,-0.336],[-0.032,-0.371],[-0.014,-0.302],[-0.117,-0.302],[-0.065,-0.268],[0.003,-0.234],[-0.04,-0.2],[0.062,-0.353],[0.096,-0.387],[0.147,-0.439]]
    ];

    // panel layout: plot box in px, axis domains, legend anchor (dot x, first y, row step)
    const panels = [
        {title: "D1", labels: d1Labels, colors: d1Colors, points: d1Points, yTicks: d1YTicks,
         box: {l: 92.7, t: 57.3, r: 613, b: 406.7}, xDom: [-1.077, 1.243], yDom: [-0.829, 0.731], legend: [127, 132, 22.1]},
        {title: "D2", labels: d2Labels, colors: d2Colors, points: d2Points, yTicks: d2YTicks,
         box: {l: 748, t: 57.3, r: 1270, b: 406.7}, xDom: [-1.194, 1.280], yDom: [-0.988, 0.66], legend: [803, 113, 22]},
        {title: "D3", labels: d3Labels, colors: d3Colors, points: d3Points, yTicks: d3YTicks,
         box: {l: 92.7, t: 612, r: 613, b: 963}, xDom: [-1.363, 1.075], yDom: [-1.075, 0.575], legend: [559, 650, 21.96]},
        {title: "D4", labels: d4Labels, colors: d4Colors, points: d4Points, yTicks: d4YTicks,
         box: {l: 748, t: 612, r: 1270, b: 963}, xDom: [-1.286, 1.384], yDom: [-0.761, 1.036], legend: [1192, 640, 22.07]}
    ];

    const svg = d3.select("#main");
    const fmt = d => d.toFixed(1);
    const diamond = d3.symbol(d3.symbolSquare, 37);

    panels.forEach(p => drawPanel(p));

    function drawPanel(p) {
        let b = p.box;
        let x = d3.scaleLinear().domain(p.xDom).range([b.l, b.r]);
        let y = d3.scaleLinear().domain(p.yDom).range([b.b, b.t]);
        let g = svg.append("g");
        let cx = (b.l + b.r) / 2 - 3;

        // title + axis labels
        g.append("text").attr("x", cx).attr("y", b.t - 36)
            .attr("text-anchor", "middle").attr("font-size", 20).attr("font-weight", "bold")
            .attr("fill", "#111").text(p.title);
        g.append("text").attr("x", cx).attr("y", b.b + 86)
            .attr("text-anchor", "middle").attr("font-size", 17).attr("fill", "#222").text("PC1");
        g.append("text")
            .attr("transform", `translate(${b.l - 69},${(b.t + b.b) / 2}) rotate(-90)`)
            .attr("text-anchor", "middle").attr("font-size", 17).attr("fill", "#222").text("PC2");

        // axes
        g.append("g")
            .attr("transform", `translate(0,${b.b + 2.5})`)
            .call(d3.axisBottom(x).tickValues(xTicks).tickSize(10).tickPadding(19).tickFormat(fmt))
            .call(a => a.select(".domain").remove())
            .call(a => a.selectAll(".tick line").attr("stroke", "#222").attr("stroke-width", 1.3))
            .call(a => a.selectAll("text").attr("font-size", 17).attr("fill", "#222"));
        g.append("g")
            .attr("transform", `translate(${b.l - 2.5},0)`)
            .call(d3.axisLeft(y).tickValues(p.yTicks).tickSize(8.5).tickFormat(fmt))
            .call(a => a.select(".domain").remove())
            .call(a => a.selectAll(".tick line").attr("stroke", "#222").attr("stroke-width", 1.3))
            .call(a => a.selectAll("text")
                .attr("transform", "rotate(-90)")
                .attr("x", 0).attr("y", -20).attr("dy", null)
                .attr("text-anchor", "middle")
                .attr("font-size", 17).attr("fill", "#222"));

        // zero reference lines
        g.append("line").attr("x1", x(0)).attr("x2", x(0)).attr("y1", b.t).attr("y2", b.b)
            .attr("stroke", "#444").attr("stroke-width", 1.3).attr("stroke-dasharray", "2,3");
        g.append("line").attr("x1", b.l).attr("x2", b.r).attr("y1", y(0)).attr("y2", y(0))
            .attr("stroke", "#444").attr("stroke-width", 1.3).attr("stroke-dasharray", "2,3");

        // points, one layer per group
        p.points.forEach((pts, i) => {
            g.append("g")
                .selectAll("path")
                .data(pts)
                .join("path")
                .attr("d", diamond)
                .attr("transform", d => `translate(${x(d[0])},${y(d[1])}) rotate(45)`)
                .attr("fill", p.colors[i])
                .attr("stroke", "#111")
                .attr("stroke-width", 1.2);
        });

        // legend
        let [lx, ly, step] = p.legend;
        let leg = g.append("g");
        p.labels.forEach((lab, i) => {
            leg.append("circle").attr("cx", lx).attr("cy", ly + i * step).attr("r", 2.4)
                .attr("fill", p.colors[i]);
            leg.append("text").attr("x", lx + 15).attr("y", ly + i * step + 3.5)
                .attr("font-size", 9).attr("fill", "#666").text(lab);
        });

        // frame
        g.append("rect").attr("x", b.l).attr("y", b.t)
            .attr("width", b.r - b.l).attr("height", b.b - b.t)
            .attr("fill", "none").attr("stroke", "#111").attr("stroke-width", 1.3);
    }
</script>
</body>
</html>
